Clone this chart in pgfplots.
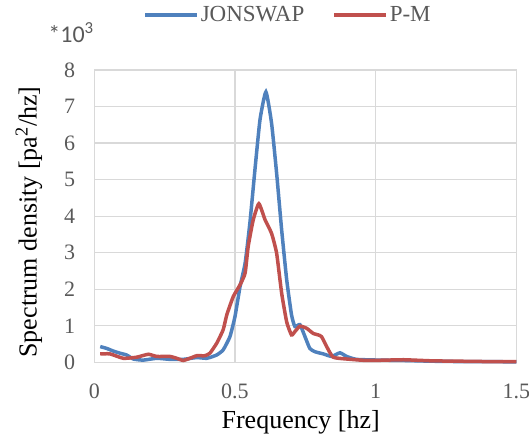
\documentclass[border=0pt]{standalone}
\usepackage{pgfplots}
\pgfplotsset{compat=1.18}
\usepackage{fontspec}
\setmainfont{Liberation Serif}
\newfontfamily\calfont{Carlito}
\definecolor{jblue}{HTML}{4F81BD}
\definecolor{pmred}{HTML}{C0504D}
\definecolor{gridc}{HTML}{D9D9D9}
\definecolor{txtgray}{HTML}{595959}
\begin{document}
\begin{tikzpicture}
\path[use as bounding box] (-94.3bp,-78.7bp) rectangle (434.7bp,362.3bp);
\begin{axis}[
  at={(0,0)}, anchor=south west,
  scale only axis, width=422bp, height=292.3bp,
  xmin=0, xmax=1.5, ymin=0, ymax=8,
  xtick={0,0.5,1,1.5}, ytick={0,1,...,8},
  xticklabels={0,0.5,1,1.5},
  yticklabels={0,1,2,3,4,5,6,7,8},
  major tick length=0pt,
  grid=major,
  major grid style={draw=gridc, line width=1.2bp},
  axis line style={draw=gridc, line width=1.2bp},
  /pgf/number format/assume math mode=true,
  ticklabel style={font=\rmfamily\fontsize{22bp}{26bp}\selectfont, text=txtgray},
  yticklabel style={anchor=east, inner sep=0pt, xshift=-19bp},
  xticklabel style={anchor=north, inner sep=0pt, yshift=-21bp},
  xlabel={Frequency [hz]},
  ylabel={Spectrum density [pa\textsuperscript{2}/hz]},
  label style={font=\fontsize{26bp}{30bp}\selectfont},
  xlabel style={at={(rel axis cs:0.489,-0.206)}, anchor=center},
  ylabel style={at={(rel axis cs:-0.155,0.48)}, anchor=center, rotate=0},
  legend columns=2,
  legend style={at={(rel axis cs:0.459,1.188)}, anchor=center, draw=none, fill=none,
    font=\fontsize{23bp}{27bp}\selectfont, text=txtgray,
    /tikz/every even column/.append style={column sep=26bp},
    inner sep=0pt},
  legend image code/.code={\draw[#1, line width=3.5bp] (0bp,0bp) -- (52bp,0bp);},
  clip=false,
]
\addplot[jblue, line width=3.5bp, smooth, tension=0.3] coordinates {
(0.021,0.43) (0.044,0.38) (0.07,0.30) (0.091,0.25) (0.115,0.20) (0.139,0.09)
(0.174,0.06) (0.222,0.11) (0.269,0.08) (0.316,0.08) (0.364,0.13) (0.40,0.11)
(0.435,0.20) (0.458,0.34) (0.482,0.70) (0.50,1.25) (0.518,2.07) (0.536,2.71)
(0.553,3.81) (0.571,5.27) (0.589,6.64) (0.610,7.40) (0.630,6.55) (0.648,5.18)
(0.666,3.62) (0.684,2.25) (0.701,1.30) (0.713,0.98) (0.731,1.03) (0.749,0.70)
(0.766,0.38) (0.784,0.29) (0.814,0.23) (0.844,0.16) (0.873,0.26) (0.897,0.16)
(0.932,0.08) (1.015,0.06) (1.1,0.05) (1.2,0.03) (1.3,0.02) (1.4,0.02) (1.5,0.01)
};
\addlegendentry{JONSWAP}
\addplot[pmred, line width=3.5bp, smooth, tension=0.3] coordinates {
(0.021,0.23) (0.056,0.23) (0.103,0.11) (0.151,0.14) (0.192,0.22) (0.222,0.16)
(0.269,0.16) (0.293,0.11) (0.316,0.05) (0.34,0.11) (0.364,0.18) (0.393,0.18)
(0.411,0.25) (0.435,0.52) (0.458,0.89) (0.471,1.30) (0.494,1.80) (0.518,2.12)
(0.536,2.44) (0.547,3.17) (0.565,3.90) (0.585,4.34) (0.607,3.90) (0.630,3.53)
(0.648,2.99) (0.666,1.89) (0.684,1.10) (0.701,0.75) (0.713,0.84) (0.731,0.99)
(0.755,0.93) (0.778,0.79) (0.796,0.75) (0.808,0.70) (0.826,0.43) (0.849,0.14)
(0.897,0.09) (0.968,0.05) (1.039,0.06) (1.1,0.07) (1.2,0.04) (1.3,0.03)
(1.4,0.02) (1.5,0.02)
};
\addlegendentry{P-M}
\node[font=\calfont\fontsize{24bp}{28bp}\selectfont, text=txtgray, anchor=center]
  at (rel axis cs:-0.055,1.127) {*10\textsuperscript{3}};
\end{axis}
\end{tikzpicture}
\end{document}
